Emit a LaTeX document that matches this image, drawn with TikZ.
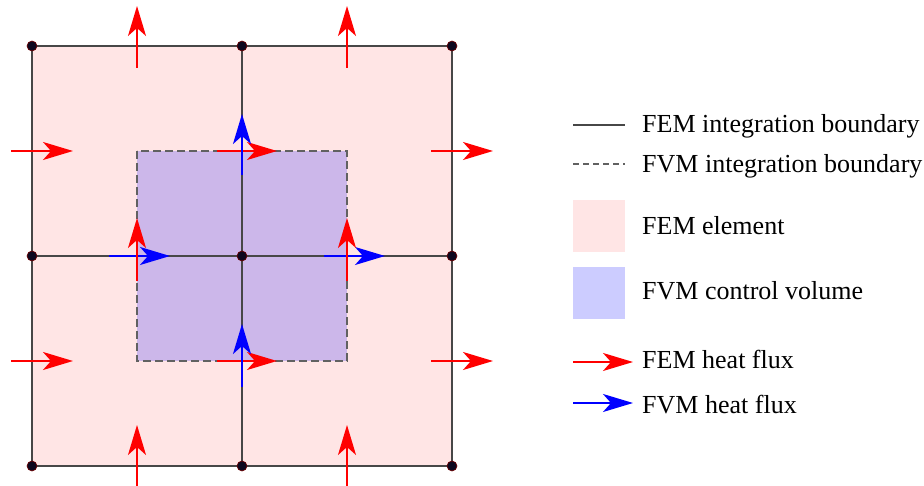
\documentclass[tikz,border=0pt]{standalone}
\usepackage{fontspec}
\setmainfont{Liberation Serif}
\usetikzlibrary{arrows.meta}
\definecolor{femfill}{rgb}{1,0.9,0.9}
\definecolor{dotfill}{rgb}{0.05,0.03,0.12}
\begin{document}
\begin{tikzpicture}[x=1pt,y=-1pt,
  gridline/.style={draw=black!72, line width=1.3pt},
  fvmline/.style={draw=black!62, line width=1.3pt, dash pattern=on 8pt off 4pt},
  legdash/.style={draw=black!62, line width=1.3pt, dash pattern=on 6pt off 4pt},
  femflux/.style={draw=red, line width=2pt, -{Stealth[length=30pt,width=18pt,inset=8pt]}},
  fvmflux/.style={femflux, draw=blue},
  nodedot/.style={circle, fill=dotfill, draw=red!45!black, line width=0.6pt, inner sep=0pt, minimum size=10pt},
  legtext/.style={anchor=base west, inner sep=0pt, font=\fontsize{26}{31}\selectfont}]
\useasboundingbox (0,0) rectangle (924,486);
% grid coordinates
\foreach \i/\x in {0/32,1/242,2/452}{
  \foreach \j/\y in {0/46,1/256,2/466}{
    \coordinate (g\i\j) at (\x,\y);
  }
}
\coordinate (c1) at (137,151);
\coordinate (c2) at (347,361);
% fills
\fill[femfill] (g00) rectangle (g22);
\fill[blue, opacity=0.2] (c1) rectangle (c2);
% FEM lines
\draw[gridline] (g00) rectangle (g22);
\draw[gridline] (g10) -- (g12);
\draw[gridline] (g01) -- (g21);
% FVM dashed boundary
\draw[fvmline] (c1) rectangle (c2);
% arrow end coordinates
\coordinate (rt1a) at (137,68);  \coordinate (rt1b) at (137,6);
\coordinate (rt2a) at (347,68);  \coordinate (rt2b) at (347,6);
\coordinate (rl1a) at (11,151);  \coordinate (rl1b) at (73,151);
\coordinate (rl2a) at (11,361);  \coordinate (rl2b) at (73,361);
\coordinate (rr1a) at (431,151); \coordinate (rr1b) at (493,151);
\coordinate (rr2a) at (431,361); \coordinate (rr2b) at (493,361);
\coordinate (rb1a) at (137,487); \coordinate (rb1b) at (137,425);
\coordinate (rb2a) at (347,487); \coordinate (rb2b) at (347,425);
\coordinate (rh1a) at (217,151); \coordinate (rh1b) at (277,151);
\coordinate (rh2a) at (217,361); \coordinate (rh2b) at (277,361);
\coordinate (rv1a) at (137,281); \coordinate (rv1b) at (137,218);
\coordinate (rv2a) at (347,281); \coordinate (rv2b) at (347,218);
\coordinate (bh1a) at (109,256); \coordinate (bh1b) at (170,256);
\coordinate (bh2a) at (324,256); \coordinate (bh2b) at (385,256);
\coordinate (bv1a) at (242,175); \coordinate (bv1b) at (242,114);
\coordinate (bv2a) at (242,387); \coordinate (bv2b) at (242,324);
% horizontal arrows first
\draw[femflux] (rl1a) -- (rl1b);
\draw[femflux] (rl2a) -- (rl2b);
\draw[femflux] (rr1a) -- (rr1b);
\draw[femflux] (rr2a) -- (rr2b);
\draw[femflux] (rh1a) -- (rh1b);
\draw[femflux] (rh2a) -- (rh2b);
\draw[fvmflux] (bh1a) -- (bh1b);
\draw[fvmflux] (bh2a) -- (bh2b);
% vertical arrows
\draw[femflux] (rt1a) -- (rt1b);
\draw[femflux] (rt2a) -- (rt2b);
\draw[femflux] (rb1a) -- (rb1b);
\draw[femflux] (rb2a) -- (rb2b);
\draw[femflux] (rv1a) -- (rv1b);
\draw[femflux] (rv2a) -- (rv2b);
\draw[fvmflux] (bv1a) -- (bv1b);
\draw[fvmflux] (bv2a) -- (bv2b);
% mesh nodes
\foreach \i in {0,1,2}{
  \foreach \j in {0,1,2}{
    \node[nodedot] (d\i\j) at (g\i\j) {};
  }
}
% legend
\coordinate (l1a) at (573,125); \coordinate (l1b) at (625,125);
\coordinate (l2a) at (573,164); \coordinate (l2b) at (625,164);
\coordinate (s1a) at (573,200); \coordinate (s1b) at (625,252);
\coordinate (s2a) at (573,267); \coordinate (s2b) at (625,319);
\coordinate (a1a) at (573,362); \coordinate (a1b) at (633,362);
\coordinate (a2a) at (573,403); \coordinate (a2b) at (633,403);
\draw[gridline] (l1a) -- (l1b);
\draw[legdash] (l2a) -- (l2b);
\fill[femfill] (s1a) rectangle (s1b);
\fill[blue!20] (s2a) rectangle (s2b);
\draw[femflux] (a1a) -- (a1b);
\draw[fvmflux] (a2a) -- (a2b);
\node[legtext] (t1) at (642,133) {FEM integration boundary};
\node[legtext] (t2) at (642,173) {FVM integration boundary};
\node[legtext] (t3) at (642,235) {FEM element};
\node[legtext] (t4) at (642,300) {FVM control volume};
\node[legtext] (t5) at (642,369) {FEM heat flux};
\node[legtext] (t6) at (642,413) {FVM heat flux};
\end{tikzpicture}
\end{document}
